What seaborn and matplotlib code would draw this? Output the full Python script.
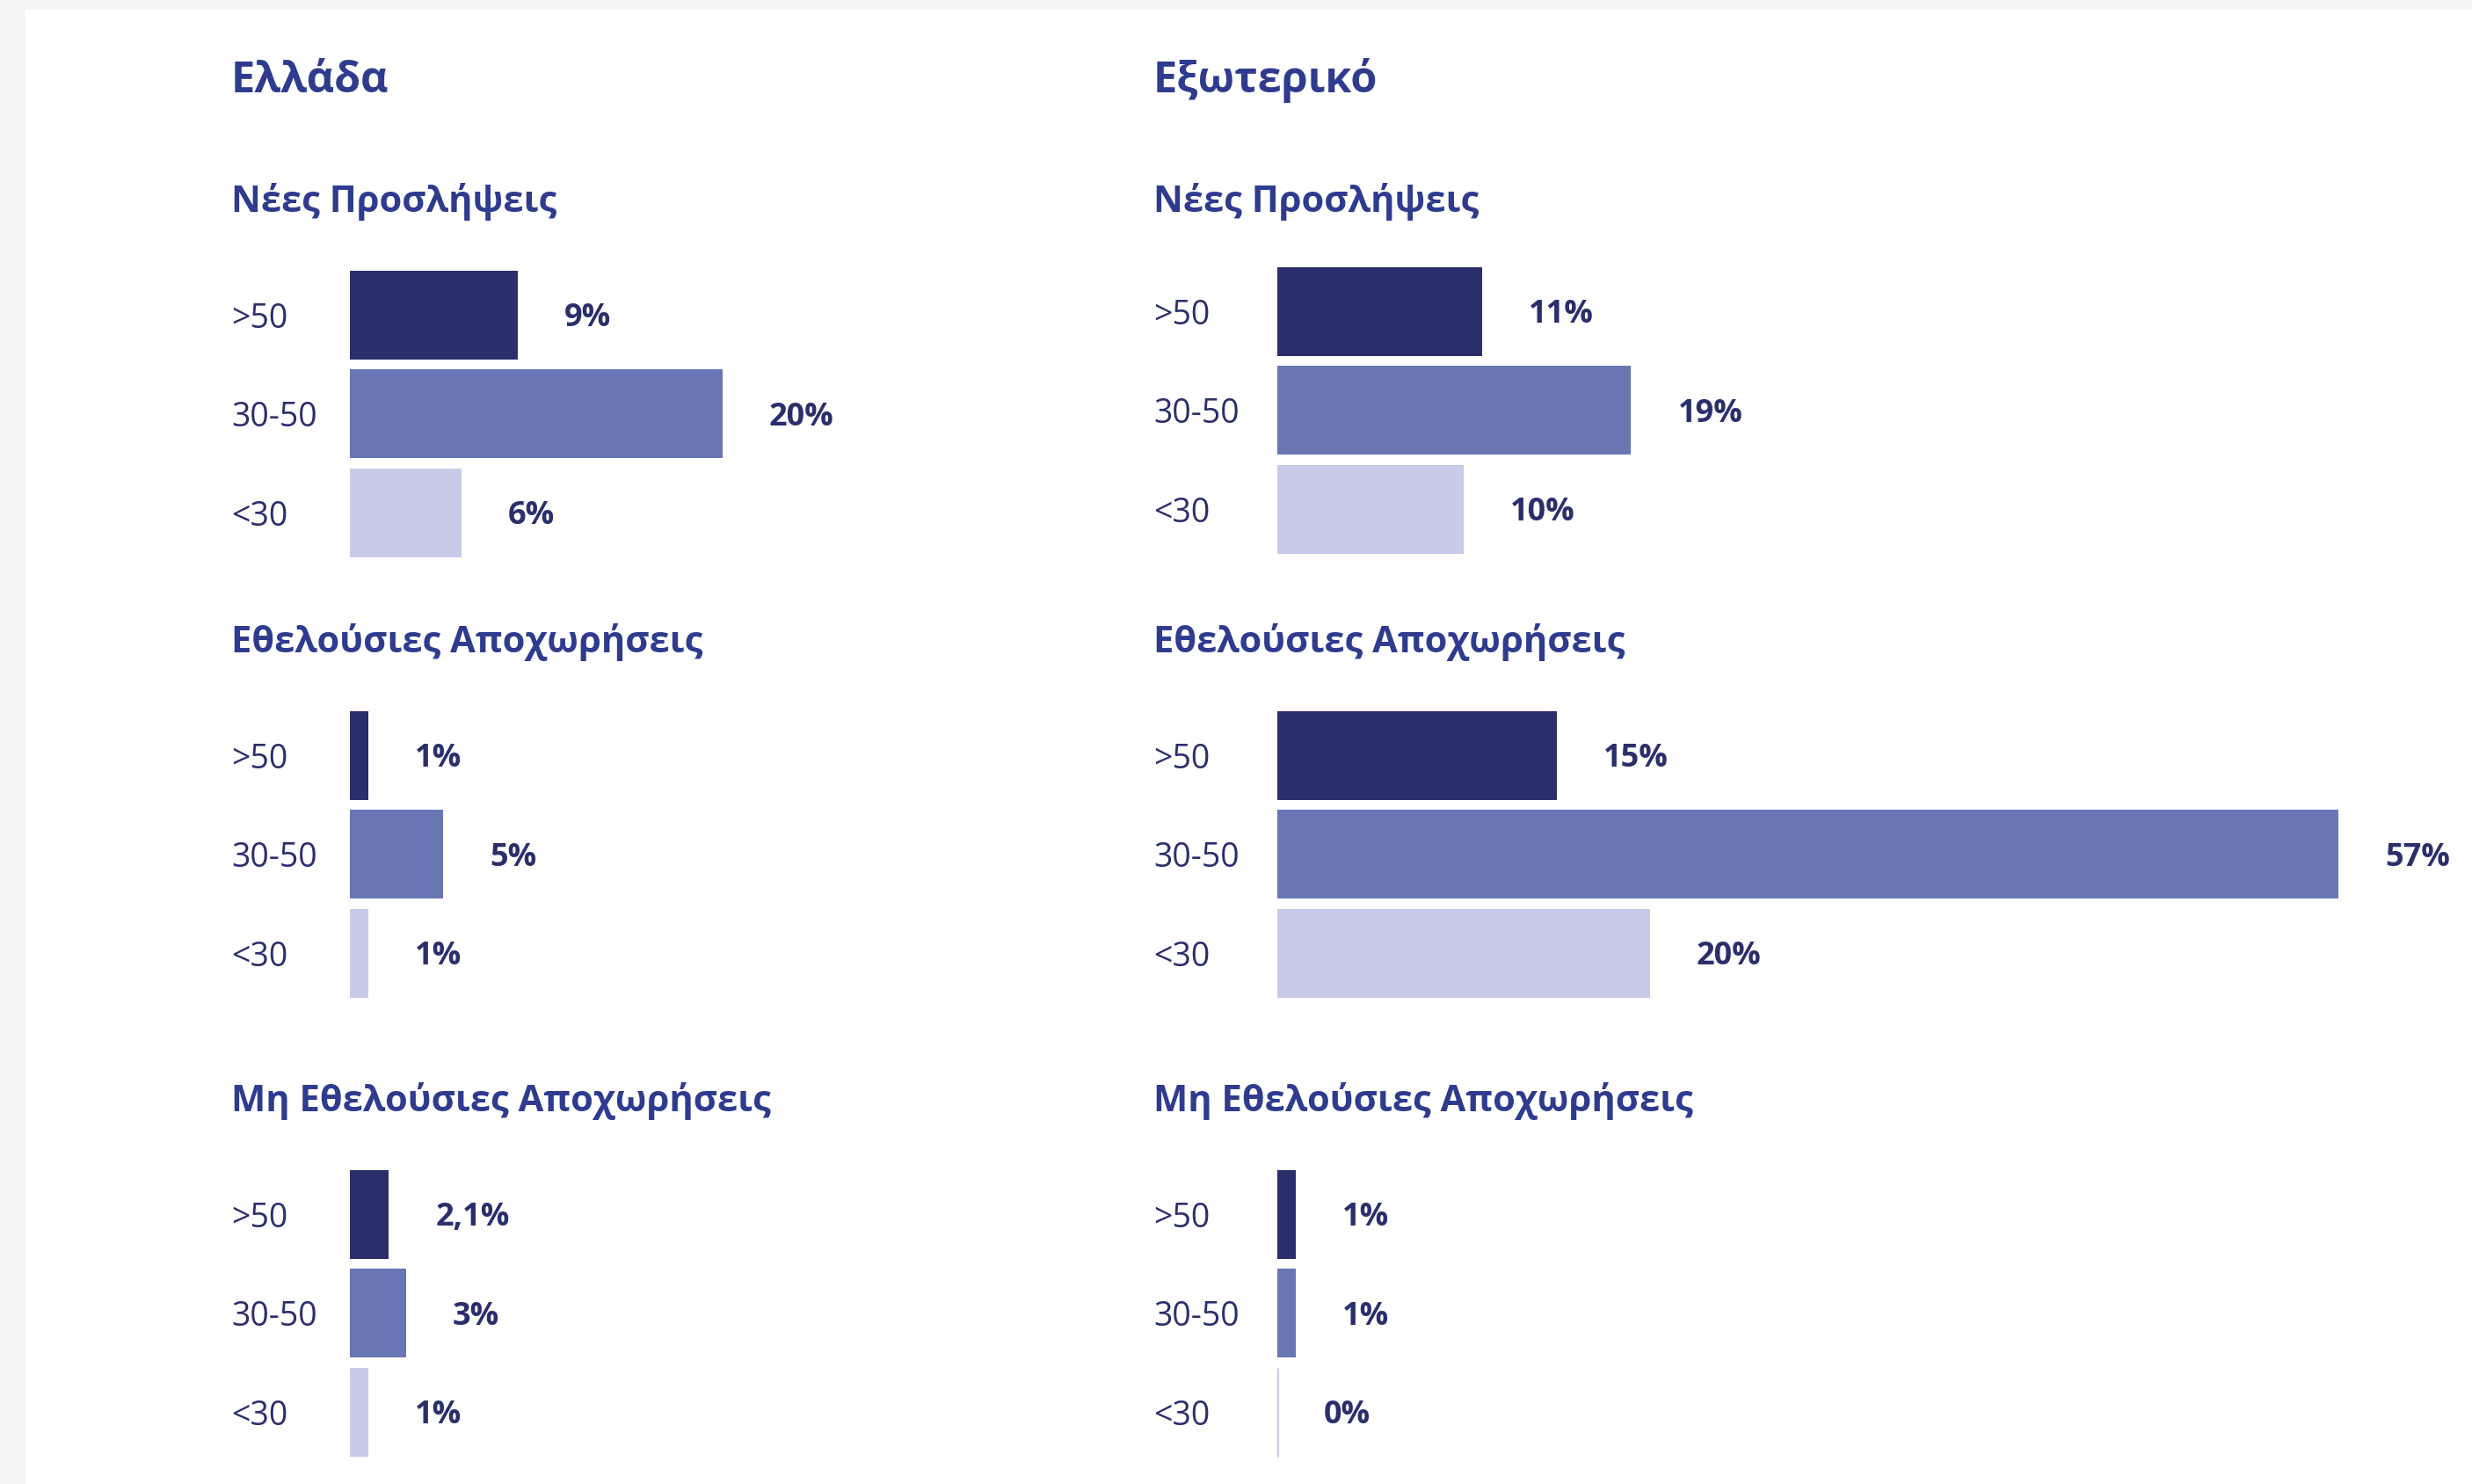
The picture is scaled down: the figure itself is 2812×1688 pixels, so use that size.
import matplotlib
matplotlib.use("Agg")
import matplotlib.pyplot as plt
from matplotlib.patches import Rectangle
import pandas as pd
import seaborn as sns

# Age bands shown in every panel
age_groups = [">50", "30-50", "<30"]

# Column headers and panel subtitles
regions = ["Ελλάδα", "Εξωτερικό"]
metrics = ["Νέες Προσλήψεις", "Εθελούσιες Αποχωρήσεις", "Μη Εθελούσιες Αποχωρήσεις"]

# Percentages per age band (order follows age_groups)
greece_new_hires = [9, 20, 6]
greece_voluntary = [1, 5, 1]
greece_involuntary = [2.1, 3, 1]
abroad_new_hires = [11, 19, 10]
abroad_voluntary = [15, 57, 20]
abroad_involuntary = [1, 1, 0]

series = {
    ("Ελλάδα", "Νέες Προσλήψεις"): greece_new_hires,
    ("Ελλάδα", "Εθελούσιες Αποχωρήσεις"): greece_voluntary,
    ("Ελλάδα", "Μη Εθελούσιες Αποχωρήσεις"): greece_involuntary,
    ("Εξωτερικό", "Νέες Προσλήψεις"): abroad_new_hires,
    ("Εξωτερικό", "Εθελούσιες Αποχωρήσεις"): abroad_voluntary,
    ("Εξωτερικό", "Μη Εθελούσιες Αποχωρήσεις"): abroad_involuntary,
}

BAR_COLORS = ["#2a2f6c", "#6876b4", "#c7cbe7"]
TITLE_COLOR = "#2e3b8e"
TEXT_COLOR = "#2a2f6c"
PANEL_GRAY = "#f4f4f4"

sns.set_theme(style="white")
plt.rcParams["font.family"] = ["Open Sans", "Noto Sans", "DejaVu Sans"]

W, H = 2812, 1688
DPI = 100
fig = plt.figure(figsize=(W / DPI, H / DPI), dpi=DPI)
fig.patch.set_facecolor("white")

# light gray frame along the top and left edge
fig.patches.append(Rectangle((0, 1 - 11 / H), 1, 11 / H, transform=fig.transFigure,
                             facecolor=PANEL_GRAY, edgecolor="none", zorder=0))
fig.patches.append(Rectangle((0, 0), 29 / W, 1, transform=fig.transFigure,
                             facecolor=PANEL_GRAY, edgecolor="none", zorder=0))

PX_PER_PCT = 21.18
XMAX = 60
ROW_PITCH = 112.5

col_text_x = {"Ελλάδα": 263, "Εξωτερικό": 1312}
col_bar_x = {"Ελλάδα": 398, "Εξωτερικό": 1453}
# top edge (px) of each panel's band area, per column
panel_top = {
    "Ελλάδα": [302, 803, 1325],
    "Εξωτερικό": [298, 803, 1325],
}
subtitle_baseline = [241, 742, 1264]
title_baseline = 105


def fx(px):
    return px / W


def fy(px):
    return 1 - px / H


def fmt_pct(v):
    return f"{v:g}".replace(".", ",") + "%"


for region in regions:
    fig.text(fx(col_text_x[region]), fy(title_baseline), region, fontsize=35,
             fontweight="bold", color=TITLE_COLOR, ha="left", va="baseline")
    for i, metric in enumerate(metrics):
        fig.text(fx(col_text_x[region]), fy(subtitle_baseline[i]), metric, fontsize=30,
                 fontweight="bold", color=TITLE_COLOR, ha="left", va="baseline")

        values = series[(region, metric)]
        df = pd.DataFrame({"age": age_groups, "value": values})

        top = panel_top[region][i]
        h = ROW_PITCH * 3
        w = XMAX * PX_PER_PCT
        ax = fig.add_axes([fx(col_bar_x[region]), fy(top + h), w / W, h / H])
        ax.set_facecolor("none")

        sns.barplot(data=df, x="value", y="age", hue="age", order=age_groups,
                    hue_order=age_groups, palette=BAR_COLORS, orient="h",
                    width=0.9, legend=False, saturation=1, ax=ax)

        ax.set_xlim(0, XMAX)
        ax.set_ylim(2.5, -0.5)
        for spine in ax.spines.values():
            spine.set_visible(False)
        ax.set_xticks([])
        ax.set_xlabel("")
        ax.set_ylabel("")

        # a zero share still shows as a hairline
        for patch in ax.patches:
            if patch.get_width() == 0:
                patch.set_edgecolor(patch.get_facecolor())
                patch.set_linewidth(2.2)
            else:
                patch.set_linewidth(0)

        pad_pts = (col_bar_x[region] - col_text_x[region]) * 72 / DPI
        ax.tick_params(axis="y", length=0, pad=pad_pts, labelsize=27, labelcolor=TEXT_COLOR)
        for lbl in ax.get_yticklabels():
            lbl.set_horizontalalignment("left")

        for container, v in zip(ax.containers, values):
            anns = ax.bar_label(container, labels=[fmt_pct(v)], padding=53 * 72 / DPI,
                                fontsize=26, fontweight="bold", color=TEXT_COLOR,
                                clip_on=False)
            for ann in anns:
                ann.xyann = (ann.xyann[0], -3)

fig.savefig("out.png", dpi=DPI, facecolor=fig.get_facecolor())
